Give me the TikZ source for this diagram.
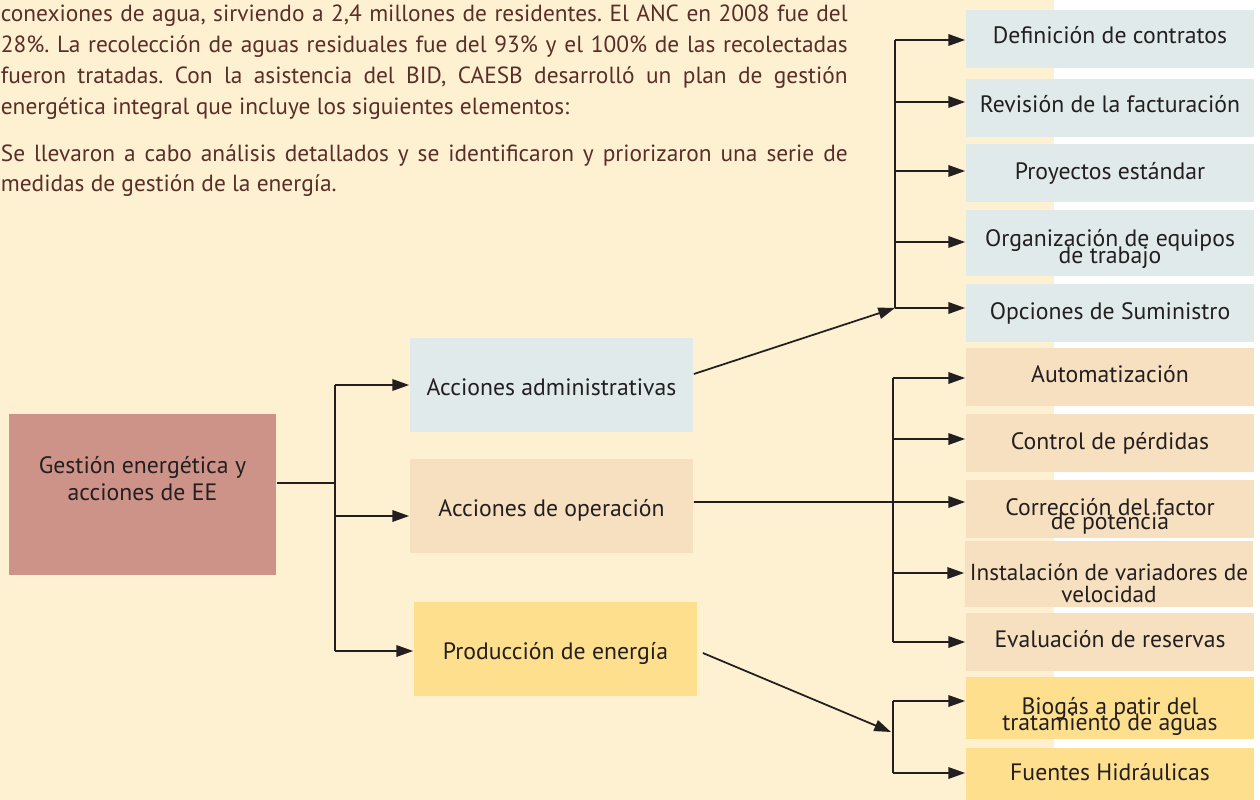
\documentclass[tikz,border=0pt]{standalone}
\usepackage{fontspec}
\setmainfont{PT Sans}
\usetikzlibrary{arrows.meta}

\definecolor{cream}{HTML}{FEF1D2}
\definecolor{rosebox}{HTML}{CE9388}
\definecolor{bluebox}{HTML}{E0EAEA}
\definecolor{peachbox}{HTML}{F7E0C0}
\definecolor{yellowbox}{HTML}{FEDF8E}
\definecolor{paratext}{HTML}{5B2D27}
\definecolor{boxtext}{HTML}{231F20}

\begin{document}
\begin{tikzpicture}[x=0.02cm, y=-0.02cm, >={Triangle[length=9.5pt,width=6.5pt]},
  line width=1pt, draw=boxtext,
  box/.style={inner sep=2pt, align=center, text=boxtext, font=\fontsize{13.5}{16.2}\selectfont},
  midbox/.style={box, minimum width=5.66cm, minimum height=1.88cm, text height=15pt, text depth=2.7pt},
  rbox/.style={box, minimum width=5.76cm, minimum height=1.16cm},
  liftby/.style={text depth=#1}]
\useasboundingbox (0,0) rectangle (1260,800);
\fill[white] (0,0) rectangle (1260,800);
\fill[cream] (0,0) rectangle (1054,800);

% text above the diagram
\node[anchor=north west, inner sep=0pt, text width=16.94cm, align=justify, text=paratext,
  font=\fontsize{13.3}{17.6}\selectfont\frenchspacing] (para) at (0,4)
  {\noindent conexiones de agua, sirviendo a 2,4 millones de residentes. El ANC en 2008 fue del\linebreak
   28\%. La recolección de aguas residuales fue del 93\% y el 100\%  de las recolectadas\linebreak
   fueron tratadas. Con la asistencia del BID, CAESB desarrolló un plan de gestión\linebreak
   energética integral que incluye los siguientes elementos:\par\vspace{9pt}
   \noindent Se llevaron a cabo análisis detallados y se identificaron y priorizaron una serie de\linebreak
   medidas de gestión de la energía.};

% main node (left)
\node[box, fill=rosebox, minimum width=5.34cm, minimum height=3.22cm, text depth=18pt] (gest) at (142.5,494.5)
  {Gestión energética y\\[-0.8pt]acciones de EE};

% action nodes (middle)
\node[midbox, fill=bluebox] (adm) at (551.5,385) {Acciones administrativas};
\node[midbox, fill=peachbox] (ope) at (551.5,506) {Acciones de operación};
\node[midbox, fill=yellowbox] (pro) at (555.5,649) {Producción de energía};

% measures (right)
\node[rbox, fill=bluebox, liftby=4.5pt] (def) at (1110,39) {Definición de contratos};
\node[rbox, fill=bluebox, liftby=4.5pt] (rev) at (1110,108) {Revisión de la facturación};
\node[rbox, fill=bluebox] (pry) at (1110,173) {Proyectos estándar};
\node[rbox, fill=bluebox, minimum height=1.32cm, text height=26.5pt] (org) at (1110,243)
  {Organización de equipos\\[-6.6pt]de trabajo};
\node[rbox, fill=bluebox, liftby=2pt] (sum) at (1110,313) {Opciones de Suministro};
\node[rbox, fill=peachbox, liftby=3.4pt] (aut) at (1110,377) {Automatización};
\node[rbox, fill=peachbox] (con) at (1110,443) {Control de pérdidas};
\node[rbox, fill=peachbox, text height=26.6pt] (cor) at (1110,509)
  {Corrección del factor\\[-7.7pt]de potencia};
\node[rbox, fill=peachbox, minimum height=1.32cm, inner xsep=0pt, text height=32.6pt,
  font=\fontsize{13.2}{16.2}\selectfont] (ins) at (1109,574)
  {Instalación de variadores de\\[-3.7pt]velocidad};
\node[rbox, fill=peachbox, liftby=3.4pt] (eva) at (1110,642) {Evaluación de reservas};
\node[rbox, fill=yellowbox, text height=27.9pt] (bio) at (1110,708)
  {Biogás a patir del\\[-7.4pt]tratamiento de aguas};
\node[rbox, fill=yellowbox, liftby=5.6pt] (fue) at (1110,777) {Fuentes Hidráulicas};

% left trunk
\coordinate (lj) at (335,483);
\coordinate (ladm) at (335,385);
\coordinate (lope) at (335,516);
\coordinate (lpro) at (335,651);
\draw (gest.east |- lj) -- (lj);
\draw (ladm) -- (lpro);
\draw[->] (ladm) -- (adm.west |- ladm);
\draw[->] (lope) -- (ope.west |- lope);
\draw[->] (lpro) -- (pro.west |- lpro);

% administrative branch
\foreach \n/\y in {def/40, rev/102, pry/171, org/242, sum/308} {
  \coordinate (a\n) at (895,\y);
  \draw[->] (a\n) -- (\n.west |- a\n);
}
\draw (adef) -- (asum);
\draw[->] ([yshift=0.22cm]adm.east) -- (asum);

% operation branch
\foreach \n/\y in {aut/378, con/439, cor/502, ins/573, eva/642} {
  \coordinate (o\n) at (893,\y);
  \draw[->] (o\n) -- (\n.west |- o\n);
}
\draw (oaut) -- (oeva);
\draw ([yshift=0.08cm]ope.east) -- (ocor);

% production branch
\foreach \n/\y in {bio/701, fue/773} {
  \coordinate (p\n) at (893,\y);
  \draw[->] (p\n) -- (\n.west |- p\n);
}
\draw (pbio) -- (pfue);
\coordinate (pmid) at (891,732);
\draw[->] ([xshift=0.1cm,yshift=-0.08cm]pro.east) -- (pmid);
\end{tikzpicture}
\end{document}
